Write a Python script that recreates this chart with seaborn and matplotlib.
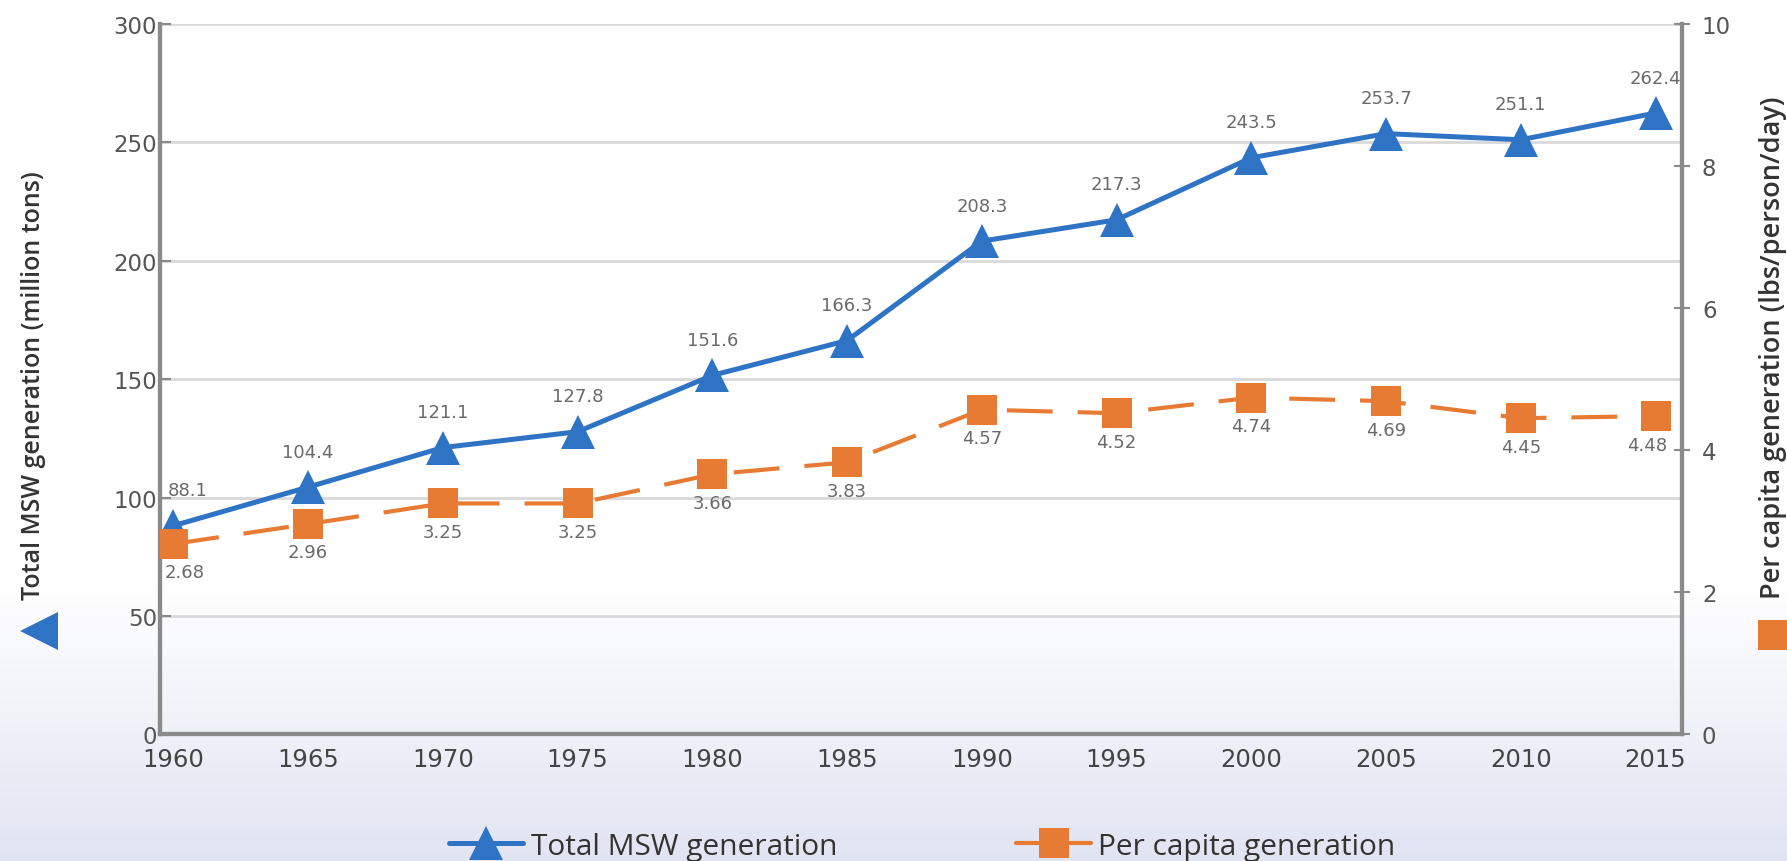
import numpy as np
import pandas as pd
import matplotlib
matplotlib.use("Agg")
import matplotlib.pyplot as plt
import seaborn as sns
from matplotlib.colors import LinearSegmentedColormap
from matplotlib.lines import Line2D

years = [1960, 1965, 1970, 1975, 1980, 1985, 1990, 1995, 2000, 2005, 2010, 2015]
total_msw = [88.1, 104.4, 121.1, 127.8, 151.6, 166.3, 208.3, 217.3, 243.5, 253.7, 251.1, 262.4]
per_capita = [2.68, 2.96, 3.25, 3.25, 3.66, 3.83, 4.57, 4.52, 4.74, 4.69, 4.45, 4.48]
total_labels = ["88.1", "104.4", "121.1", "127.8", "151.6", "166.3", "208.3", "217.3", "243.5", "253.7", "251.1", "262.4"]
per_labels = ["2.68", "2.96", "3.25", "3.25", "3.66", "3.83", "4.57", "4.52", "4.74", "4.69", "4.45", "4.48"]
left_ticks = [0, 50, 100, 150, 200, 250, 300]
right_ticks = [0, 2, 4, 6, 8, 10]

BLUE = "#2f73c4"
ORANGE = "#e87b34"
GRAY_TXT = "#6a6a6a"
TICK_TXT = "#555555"

sns.set_theme(style="white")
plt.rcParams['font.family'] = ['Open Sans', 'DejaVu Sans']

df = pd.DataFrame({"year": years, "total": total_msw, "per": per_capita})

fig = plt.figure(figsize=(17.87, 8.62), dpi=100)

# background gradient
bg = fig.add_axes([0, 0, 1, 1], zorder=-10)
cmap = LinearSegmentedColormap.from_list("bg", [(0, "#ffffff"), (0.68, "#ffffff"), (1.0, "#e1e5f2")])
grad = np.linspace(0, 1, 256).reshape(-1, 1)
bg.imshow(grad, aspect="auto", cmap=cmap, extent=[0, 1, 0, 1], origin="upper")
bg.set_axis_off()

ax = fig.add_axes([0.0895, 0.147, 0.852, 0.824])
ax.set_facecolor("none")
ax2 = ax.twinx()
ax2.set_facecolor("none")

sns.lineplot(data=df, x="year", y="total", ax=ax, color=BLUE, marker="^",
             markersize=25, linewidth=3.6, markeredgewidth=0, zorder=5)
sns.lineplot(data=df, x="year", y="per", ax=ax2, color=ORANGE, marker="s",
             markersize=22, linewidth=3.0, markeredgewidth=0, zorder=5)
ax2.lines[-1].set_dashes((11, 6))

ax.set_xlim(1959.5, 2016)
ax.set_ylim(0, 300)
ax2.set_ylim(0, 10)

ax.set_yticks(left_ticks)
ax2.set_yticks(right_ticks)
ax.set_xticks(years)

ax.yaxis.grid(True, color="#d9d9d9", linewidth=2.0)
ax.xaxis.grid(False)
ax2.grid(False)
ax.set_axisbelow(True)

for a in (ax, ax2):
    for s in a.spines.values():
        s.set_color("#8a8a8a")
        s.set_linewidth(3.0)
ax2.spines["top"].set_visible(False)
ax.spines["top"].set_visible(False)

ax.tick_params(axis="y", direction="in", length=8, width=1.5, color="#8a8a8a",
               labelsize=16.5, labelcolor=TICK_TXT, pad=2, labelfontfamily="DejaVu Sans")
ax2.tick_params(axis="y", direction="inout", length=12, width=1.5, color="#8a8a8a",
                labelsize=16.5, labelcolor=TICK_TXT, pad=8, labelfontfamily="DejaVu Sans")
ax.tick_params(axis="x", length=0, labelsize=17.5, labelcolor="#444444", pad=9,
               labelfontfamily="DejaVu Sans")

ax.set_xlabel("")
ax.set_ylabel("")
ax2.set_ylabel("")

for i, (x, y, t) in enumerate(zip(years, total_msw, total_labels)):
    dx = 10 if i == 0 else 0
    ax.annotate(t, (x, y), xytext=(dx, 19), textcoords="offset points",
                ha="center", va="bottom", fontsize=13, color=GRAY_TXT, family="DejaVu Sans")
for i, (x, y, t) in enumerate(zip(years, per_capita, per_labels)):
    dx = 8 if i == 0 else (-6 if i == len(years) - 1 else 0)
    ax2.annotate(t, (x, y), xytext=(dx, -14), textcoords="offset points",
                 ha="center", va="top", fontsize=13, color=GRAY_TXT, family="DejaVu Sans")

# axis titles with marker symbols
fig.text(0.019, 0.553, "Total MSW generation (million tons)", rotation=90,
         ha="center", va="center", fontsize=18, color="#333333", fontweight="semibold")
fig.add_artist(Line2D([0.022], [0.267], marker="<", markersize=28, color=BLUE,
                      markeredgewidth=0, transform=fig.transFigure))
fig.text(0.992, 0.596, "Per capita generation (lbs/person/day)", rotation=90,
         ha="center", va="center", fontsize=19.5, color="#333333", fontweight="semibold")
fig.add_artist(Line2D([0.992], [0.262], marker="s", markersize=22, color=ORANGE,
                      markeredgewidth=0, transform=fig.transFigure))

# legend
h1 = Line2D([], [], color=BLUE, marker="^", markersize=24, linewidth=3.6, markeredgewidth=0)
h2 = Line2D([], [], color=ORANGE, marker="s", markersize=22, linewidth=3.0, markeredgewidth=0)
fig.legend([h1, h2], ["Total MSW generation", "Per capita generation"],
           loc="center", bbox_to_anchor=(0.516, 0.017), ncol=2, frameon=False,
           fontsize=21.5, handlelength=2.5, columnspacing=6.0, handletextpad=0.25,
           labelcolor="#333333")

fig.savefig("out.png", dpi=100)
